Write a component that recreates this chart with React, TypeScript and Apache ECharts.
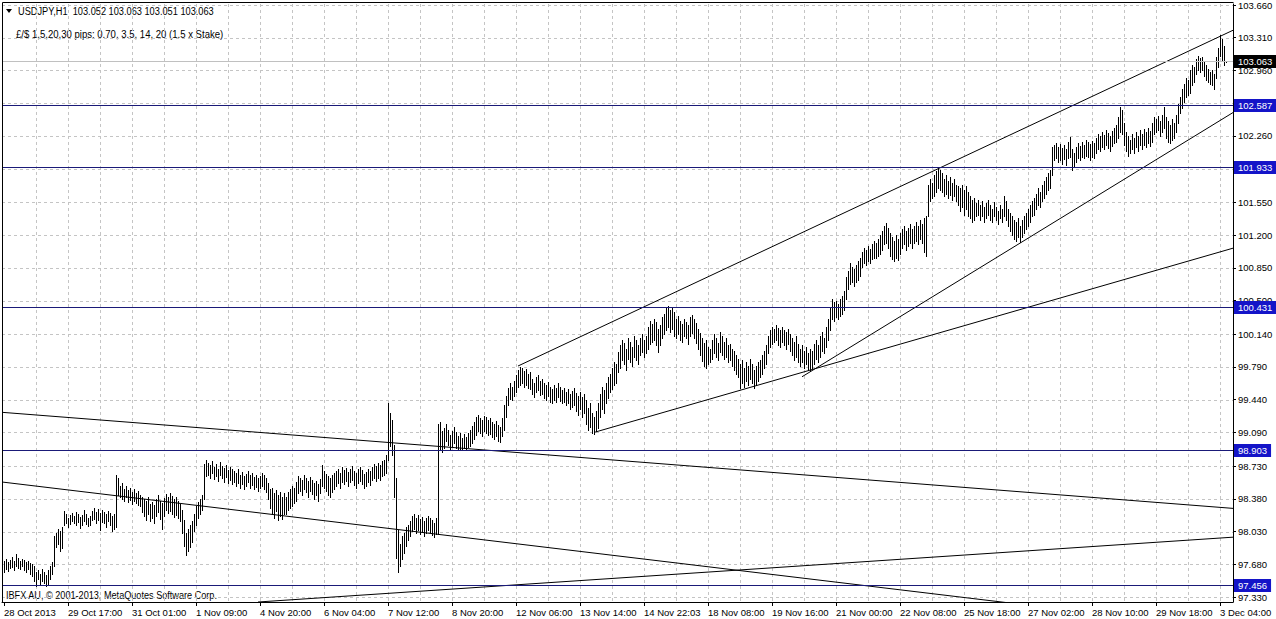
import React, { useEffect, useRef } from 'react';
import * as echarts from 'echarts';

// Hourly bar highs (USDJPY H1), bar 0 = 28 Oct 2013 00:00
const highs: number[] = [
  97.72,97.74,97.70,97.73,97.76,97.72,97.79,97.75,97.72,97.74,97.73,97.70,97.72,97.69,97.68,
  97.66,97.60,97.62,97.58,97.63,97.60,97.57,97.62,97.66,97.70,
  97.98,98.02,98.06,98.04,98.08,
  98.25,98.22,98.18,98.21,98.23,98.20,98.24,98.22,98.19,98.21,98.26,98.22,98.18,98.20,98.25,98.28,98.24,98.27,98.23,98.26,98.24,98.22,98.25,98.23,98.20,98.22,98.64,
  98.60,98.52,98.55,98.49,98.52,98.47,98.50,98.45,98.48,98.44,98.46,98.42,
  98.40,98.38,98.36,98.40,98.33,98.35,98.31,98.38,98.42,98.36,98.34,98.39,98.43,98.40,98.44,98.41,98.38,98.40,98.36,98.33,
  98.26,98.15,98.02,98.06,98.10,98.14,
  98.22,98.30,98.35,98.38,98.42,
  98.75,
  98.80,98.76,98.74,98.78,98.72,98.75,98.70,98.77,98.73,98.71,98.74,98.69,98.72,98.70,98.68,
  98.66,98.70,98.64,98.67,98.62,98.65,98.68,98.63,98.66,98.61,98.64,98.60,98.62,98.66,98.63,98.60,
  98.55,98.48,98.50,98.44,98.47,98.42,98.45,98.40,98.44,
  98.40,98.45,98.48,98.52,98.50,98.56,
  98.62,98.60,98.58,98.63,98.60,98.57,98.61,98.58,98.55,98.57,98.54,98.59,
  98.74,98.68,98.65,98.62,98.60,98.64,98.66,
  98.68,98.70,98.66,98.72,98.69,98.71,98.67,98.70,98.73,98.68,98.66,98.70,98.72,98.69,98.65,98.67,98.70,98.68,98.72,98.75,98.73,98.76,98.74,98.78,98.80,98.85,
  99.40,99.30,99.22,98.96,98.60,98.05,
  97.90,97.98,98.02,98.08,98.10,98.14,
  98.20,98.22,98.18,98.21,98.16,98.19,98.14,98.17,98.20,98.18,98.15,98.12,98.18,
  99.18,
  99.20,99.10,99.14,99.18,99.12,99.06,99.10,99.15,99.09,99.05,99.08,99.03,99.07,99.04,99.08,99.12,99.16,
  99.20,99.26,99.28,99.24,99.22,99.27,99.25,99.22,99.24,99.20,99.18,99.21,99.17,99.15,99.24,99.38,
  99.48,99.56,99.62,99.58,99.64,99.70,99.76,99.79,
  99.78,99.75,99.77,99.72,99.74,
  99.66,99.62,99.68,99.70,99.64,99.66,99.62,99.60,99.63,99.58,99.55,99.60,99.57,99.62,99.58,99.54,99.56,99.52,99.55,99.50,99.53,99.56,99.51,99.48,99.52,99.47,99.50,
  99.44,99.35,99.40,99.30,99.26,99.32,
  99.40,99.50,99.58,99.54,99.62,99.68,99.72,99.78,99.84,99.82,
  99.95,100.02,100.08,100.05,99.98,100.10,100.06,100.00,100.12,100.08,100.03,100.10,100.14,100.08,100.12,
  100.22,100.28,100.25,100.30,100.27,100.20,100.24,100.32,100.36,
  100.42,100.44,100.40,100.43,100.38,
  100.30,100.34,100.28,100.25,100.30,100.27,100.24,100.32,100.35,100.30,100.26,
  100.20,100.15,100.10,100.05,100.08,100.00,99.98,
  100.08,100.14,100.10,100.05,100.16,100.12,100.06,100.10,100.02,100.04,99.98,99.96,99.92,
  99.88,99.82,99.86,99.78,99.84,99.80,99.88,99.82,99.76,99.80,99.84,99.86,99.92,99.96,100.02,
  100.12,100.18,100.22,100.20,100.24,100.21,100.18,100.22,100.19,100.16,100.20,100.14,
  100.10,100.06,100.12,100.04,99.98,100.02,99.96,100.00,99.94,99.98,99.96,
  100.04,100.08,100.02,100.12,100.16,100.10,100.22,100.30,100.42,100.52,
  100.48,100.50,100.46,100.52,100.55,100.60,100.75,
  100.82,100.90,100.86,100.84,100.88,100.92,100.96,
  101.02,101.06,101.04,101.08,101.05,101.10,101.14,101.12,101.16,101.20,
  101.24,101.30,101.33,101.28,101.22,101.18,101.14,101.20,101.16,101.22,
  101.26,101.30,101.24,101.28,101.32,101.26,101.30,101.34,101.30,101.36,101.32,101.38,101.40,
  101.74,101.80,101.76,101.84,101.88,101.92,101.90,
  101.86,101.80,101.84,101.78,101.82,101.76,101.80,101.74,
  101.72,101.70,101.74,101.68,101.72,101.66,101.62,101.58,101.60,
  101.54,101.58,101.52,101.56,101.50,101.54,101.58,101.52,101.48,101.55,101.50,101.46,101.52,101.48,101.62,101.56,
  101.48,101.44,101.40,101.36,101.34,101.38,101.30,101.36,101.40,101.44,
  101.48,101.52,101.56,101.60,101.64,101.70,101.66,101.74,101.78,101.82,101.86,101.90,
  102.14,
  102.16,102.18,102.14,102.17,102.13,102.16,102.12,102.20,102.25,102.12,
  102.08,102.14,102.18,102.15,102.20,102.16,102.22,102.19,102.17,102.21,102.18,
  102.24,102.28,102.26,102.30,102.27,102.32,102.29,102.26,102.31,102.34,102.38,
  102.46,102.57,102.54,102.40,
  102.30,102.26,102.22,102.28,102.24,102.30,102.26,102.32,102.28,102.33,102.30,102.34,102.31,
  102.40,102.46,102.44,102.47,102.42,102.48,102.57,
  102.46,102.42,102.38,102.44,102.40,102.48,
  102.60,102.68,102.76,102.82,102.88,102.86,
  102.96,103.02,103.00,
  103.08,103.11,103.09,103.10,103.06,103.02,
  102.98,102.94,102.96,102.92,
  103.10,103.20,103.34,103.30,103.22,103.063,
];

const lows: number[] = [
  97.60,97.63,97.61,97.64,97.65,97.62,97.66,97.64,97.63,97.66,97.62,97.60,97.63,97.58,97.55,
  97.50,97.45,97.52,97.47,97.50,97.48,97.45,97.47,97.52,97.58,
  97.66,97.86,97.90,97.82,97.85,
  98.10,98.12,98.08,98.11,98.14,98.12,98.10,98.13,98.07,98.10,98.14,98.11,98.09,98.10,98.15,98.16,98.12,98.15,98.05,98.13,98.12,98.08,98.14,98.10,98.04,98.06,98.08,
  98.42,98.40,98.38,98.36,98.40,98.35,98.37,98.33,98.36,98.34,98.31,98.30,
  98.24,98.20,98.15,98.22,98.14,98.18,98.12,98.20,98.24,98.16,98.06,98.20,98.26,98.23,98.25,98.22,98.19,98.21,98.17,98.14,
  98.02,97.88,97.78,97.82,97.86,97.92,
  98.04,98.10,98.18,98.22,98.26,
  98.38,
  98.62,98.64,98.60,98.66,98.59,98.62,98.57,98.64,98.60,98.56,98.61,98.55,98.58,98.54,98.56,
  98.52,98.55,98.50,98.54,98.49,98.52,98.56,98.50,98.53,98.48,98.51,98.46,98.50,98.52,98.49,98.45,
  98.38,98.28,98.22,98.18,98.25,98.15,98.20,98.16,98.22,
  98.22,98.26,98.28,98.30,98.34,98.36,
  98.44,98.46,98.42,98.48,98.45,98.40,98.46,98.43,98.38,98.42,98.36,98.44,
  98.52,98.50,98.46,98.42,98.40,98.45,98.48,
  98.52,98.55,98.50,98.56,98.54,98.57,98.52,98.56,98.58,98.53,98.50,98.55,98.57,98.54,98.50,98.52,98.56,98.53,98.58,98.60,98.57,98.60,98.58,98.62,98.64,98.66,
  98.80,98.95,98.85,98.40,97.75,97.60,
  97.66,97.74,97.80,97.88,97.94,97.98,
  98.04,98.06,98.02,98.05,98.00,98.03,97.98,98.02,98.05,98.03,97.99,97.97,98.00,
  98.00,
  98.90,98.88,98.92,99.00,98.96,98.90,98.94,98.98,98.92,98.90,98.91,98.90,98.92,98.91,98.93,98.95,98.98,
  99.02,99.06,99.10,99.08,99.05,99.10,99.08,99.06,99.07,99.04,99.02,99.05,99.00,98.99,99.05,99.12,
  99.25,99.38,99.45,99.44,99.48,99.52,99.58,99.60,
  99.62,99.58,99.60,99.56,99.55,
  99.50,99.47,99.52,99.54,99.49,99.50,99.46,99.44,99.48,99.42,99.40,99.44,99.42,99.47,99.43,99.40,99.42,99.38,99.40,99.34,99.36,99.38,99.32,99.28,99.34,99.26,99.30,
  99.18,99.12,99.15,99.08,99.07,99.10,
  99.14,99.26,99.34,99.30,99.40,99.46,99.52,99.55,99.60,99.62,
  99.74,99.78,99.86,99.82,99.76,99.88,99.84,99.80,99.90,99.86,99.82,99.92,99.95,99.90,99.94,
  99.98,100.04,100.06,100.08,100.02,99.95,100.02,100.10,100.14,
  100.18,100.22,100.16,100.20,100.12,
  100.10,100.14,100.08,100.06,100.12,100.10,100.04,100.12,100.15,100.10,100.05,
  99.98,99.92,99.85,99.80,99.78,99.82,99.84,
  99.88,99.94,99.90,99.86,99.95,99.92,99.87,99.90,99.84,99.86,99.80,99.76,99.72,
  99.68,99.56,99.62,99.58,99.64,99.60,99.66,99.62,99.56,99.60,99.64,99.68,99.72,99.78,99.82,
  99.94,100.00,100.04,100.06,100.08,100.02,100.00,100.06,100.02,99.98,100.04,99.96,
  99.92,99.86,99.90,99.84,99.80,99.84,99.78,99.82,99.76,99.75,99.78,
  99.82,99.88,99.84,99.90,99.96,99.94,100.00,100.08,100.18,100.30,
  100.28,100.32,100.30,100.34,100.36,100.40,100.52,
  100.62,100.68,100.70,100.66,100.70,100.72,100.76,
  100.86,100.90,100.88,100.92,100.90,100.94,100.96,100.95,100.98,101.00,
  101.04,101.10,101.12,101.06,100.98,100.94,100.92,100.96,100.93,101.00,
  101.06,101.10,101.04,101.08,101.12,101.06,101.12,101.14,101.10,101.16,101.12,101.02,100.98,
  101.40,101.56,101.60,101.62,101.66,101.70,101.68,
  101.66,101.62,101.64,101.60,101.63,101.58,101.62,101.56,
  101.52,101.46,101.50,101.42,101.48,101.40,101.38,101.34,101.36,
  101.40,101.42,101.36,101.40,101.34,101.38,101.42,101.36,101.34,101.40,101.36,101.32,101.38,101.34,101.40,101.36,
  101.30,101.24,101.20,101.16,101.14,101.18,101.13,101.18,101.22,101.26,
  101.30,101.34,101.40,101.42,101.48,101.52,101.50,101.56,101.60,101.64,101.68,101.70,
  101.84,
  102.00,102.02,101.98,102.00,101.96,102.01,101.95,102.02,102.04,101.90,
  101.94,101.98,102.02,102.00,102.04,102.02,102.05,102.03,102.00,102.04,102.02,
  102.08,102.12,102.10,102.14,102.12,102.16,102.13,102.10,102.15,102.18,102.20,
  102.24,102.30,102.28,102.16,
  102.10,102.05,102.08,102.12,102.08,102.14,102.10,102.16,102.12,102.16,102.14,102.18,102.15,
  102.20,102.28,102.30,102.32,102.26,102.30,102.34,
  102.24,102.20,102.18,102.22,102.24,102.30,
  102.40,102.50,102.56,102.62,102.68,102.70,
  102.72,102.80,102.84,
  102.92,102.96,102.94,102.96,102.90,102.86,
  102.84,102.82,102.80,102.76,
  102.88,103.00,103.12,103.06,103.02,103.051,
];

const timeLabels = [
  '28 Oct 2013', '29 Oct 17:00', '31 Oct 01:00', '1 Nov 09:00', '4 Nov 20:00',
  '6 Nov 04:00', '7 Nov 12:00', '8 Nov 20:00', '12 Nov 06:00', '13 Nov 14:00',
  '14 Nov 22:03', '18 Nov 08:00', '19 Nov 16:00', '21 Nov 00:00', '22 Nov 08:00',
  '25 Nov 18:00', '27 Nov 02:00', '28 Nov 10:00', '29 Nov 18:00', '3 Dec 04:00',
];
const labelStep = 32; // bars between time labels
const gridStep = 16; // bars between vertical grid lines

const priceTicks = [
  103.66, 103.31, 102.96, 102.61, 102.26, 101.91, 101.55, 101.2, 100.85, 100.5,
  100.14, 99.79, 99.44, 99.09, 98.73, 98.38, 98.03, 97.68, 97.33,
];

const levels = [102.587, 101.933, 100.431, 98.903, 97.456];
const lastPrice = 103.063;

// trend lines: [barIndex1, price1, barIndex2, price2]
const trendLines: number[][] = [
  [257, 99.8, 614.5, 103.39],
  [295, 99.09, 614.5, 101.06],
  [399, 99.685, 614.5, 102.51],
  [-1, 99.305, 614.5, 98.278],
  [-1, 98.56, 614.5, 96.98],
  [127, 97.277, 614.5, 97.97],
];

const titleText = 'USDJPY,H1  103.052 103.063 103.051 103.063';
const infoText = '£/$ 1,5,20,30 pips: 0.70, 3.5, 14, 20 (1.5 x Stake)';
const copyrightText = 'IBFX AU, © 2001-2013, MetaQuotes Software Corp.';

const Y_MIN = 97.277;
const Y_MAX = 103.671;
const X_MIN = -1;
const X_MAX = 614.5;

const FONT = "'Liberation Sans', Arial, sans-serif";
const AXIS_FONT_SIZE = 9.5;

export default function App() {
  const ref = useRef<HTMLDivElement>(null);

  useEffect(() => {
    if (!ref.current) return;
    const chart = echarts.init(ref.current, undefined, { renderer: 'svg' });

    const n = Math.min(highs.length, lows.length);
    const barData = [] as number[][];
    for (let i = 0; i < n; i++) barData.push([i, highs[i], lows[i]]);

    const labelValues = timeLabels.map((_, k) => k * labelStep);
    const vGrid: number[] = [];
    for (let v = gridStep; v < X_MAX; v += gridStep) vGrid.push(v);

    // [price, kind]: kind 0 = last price, 1 = drawn level
    const levelData = [[lastPrice, 0], ...levels.map((v) => [v, 1])];

    const gridStroke = { stroke: '#c4c4c4', lineWidth: 1, lineDash: [3, 3] };

    const series: any[] = [
      {
        type: 'custom',
        z: 1,
        silent: true,
        data: priceTicks.map((v) => [v]),
        encode: { y: 0 },
        renderItem: (params: any, api: any) => {
          const cs = params.coordSys;
          const y = Math.round(api.coord([X_MIN, api.value(0)])[1]) + 0.5;
          return {
            type: 'line',
            shape: { x1: cs.x, y1: y, x2: cs.x + cs.width, y2: y },
            style: gridStroke,
          };
        },
      },
      {
        type: 'custom',
        z: 1,
        silent: true,
        data: vGrid.map((v) => [v]),
        encode: { x: 0 },
        renderItem: (params: any, api: any) => {
          const cs = params.coordSys;
          const x = Math.round(api.coord([api.value(0), Y_MIN])[0]) + 0.5;
          return {
            type: 'line',
            shape: { x1: x, y1: cs.y, x2: x, y2: cs.y + cs.height },
            style: gridStroke,
          };
        },
      },
      {
        type: 'custom',
        z: 3,
        silent: true,
        data: barData,
        encode: { x: 0, y: [1, 2] },
        renderItem: (params: any, api: any) => {
          const i = api.value(0);
          const top = api.coord([i, api.value(1)]);
          const bot = api.coord([i, api.value(2)]);
          const y1 = Math.round(top[1]);
          const y2 = Math.round(bot[1]);
          return {
            type: 'rect',
            shape: { x: Math.floor(top[0]), y: y1, width: 1, height: Math.max(1, y2 - y1 + 1) },
            style: { fill: '#000' },
          };
        },
      },
      ...trendLines.map((t) => ({
        type: 'line',
        z: 4,
        silent: true,
        symbol: 'none',
        clip: true,
        lineStyle: { color: '#000', width: 1 },
        data: [
          [t[0], t[1]],
          [t[2], t[3]],
        ],
      })),
      {
        type: 'custom',
        z: 6,
        silent: true,
        clip: false,
        data: levelData,
        encode: { y: 0 },
        renderItem: (params: any, api: any) => {
          const cs = params.coordSys;
          const v = api.value(0);
          const isLast = api.value(1) === 0;
          const y = Math.round(api.coord([X_MIN, v])[1]) + 0.5;
          return {
            type: 'group',
            children: [
              {
                type: 'line',
                shape: { x1: cs.x + 1, y1: y, x2: cs.x + cs.width, y2: y },
                style: { stroke: isLast ? '#c0c0c0' : '#1a1a78', lineWidth: 1 },
              },
              {
                type: 'text',
                x: cs.x + cs.width + 1,
                y: y,
                style: {
                  text: v.toFixed(3),
                  fill: '#fff',
                  backgroundColor: isLast ? '#000' : '#1414c8',
                  padding: [1, 4, 1, 4],
                  fontSize: AXIS_FONT_SIZE,
                  fontFamily: FONT,
                  lineHeight: 11,
                  align: 'left',
                  verticalAlign: 'middle',
                },
              },
            ],
          };
        },
      },
    ];

    chart.setOption({
      animation: false,
      backgroundColor: '#fff',
      grid: {
        left: 2,
        right: 43,
        top: 2,
        bottom: 17,
        show: false,
      },
      xAxis: {
        type: 'value',
        min: X_MIN,
        max: X_MAX,
        axisLine: { show: true, onZero: false, lineStyle: { color: '#000' } },
        axisTick: { show: true, customValues: labelValues, length: 4, lineStyle: { color: '#000' } },
        splitLine: { show: false },
        axisLabel: {
          customValues: labelValues,
          formatter: (v: number) => timeLabels[Math.round(v / labelStep)] ?? '',
          align: 'left',
          margin: 5,
          color: '#000',
          fontSize: AXIS_FONT_SIZE,
          fontFamily: FONT,
        },
      },
      yAxis: {
        type: 'value',
        position: 'right',
        min: Y_MIN,
        max: Y_MAX,
        axisLine: { show: true, onZero: false, lineStyle: { color: '#000' } },
        axisTick: { show: true, customValues: priceTicks, length: 3, lineStyle: { color: '#000' } },
        splitLine: { show: false },
        axisLabel: {
          customValues: priceTicks,
          formatter: (v: number) => v.toFixed(3),
          margin: 5,
          color: '#000',
          fontSize: AXIS_FONT_SIZE,
          fontFamily: FONT,
        },
      },
      graphic: [
        {
          type: 'line',
          z: 10,
          shape: { x1: 2.5, y1: 2.5, x2: 1233.5, y2: 2.5 },
          style: { stroke: '#000', lineWidth: 1 },
        },
        {
          type: 'line',
          z: 10,
          shape: { x1: 2.5, y1: 2.5, x2: 2.5, y2: 602.5 },
          style: { stroke: '#000', lineWidth: 1 },
        },
        {
          type: 'polygon',
          shape: { points: [[6, 9], [12, 9], [9, 13]] },
          style: { fill: '#000' },
        },
        {
          type: 'text',
          x: 18,
          y: 11,
          scaleX: 0.84,
          style: { text: titleText, fill: '#000', fontSize: 11, fontFamily: FONT, verticalAlign: 'middle' },
        },
        {
          type: 'text',
          x: 16,
          y: 34,
          scaleX: 0.87,
          style: { text: infoText, fill: '#000', fontSize: 11, fontFamily: FONT, verticalAlign: 'middle' },
        },
        {
          type: 'text',
          x: 6,
          y: 595,
          scaleX: 0.83,
          style: { text: copyrightText, fill: '#000', fontSize: 11, fontFamily: FONT, verticalAlign: 'middle' },
        },
      ],
      series,
    });

    return () => chart.dispose();
  }, []);

  return (
    <div
      ref={ref}
      style={{ position: 'absolute', left: 0, top: 0, width: 1276, height: 619, background: '#fff' }}
    />
  );
}
